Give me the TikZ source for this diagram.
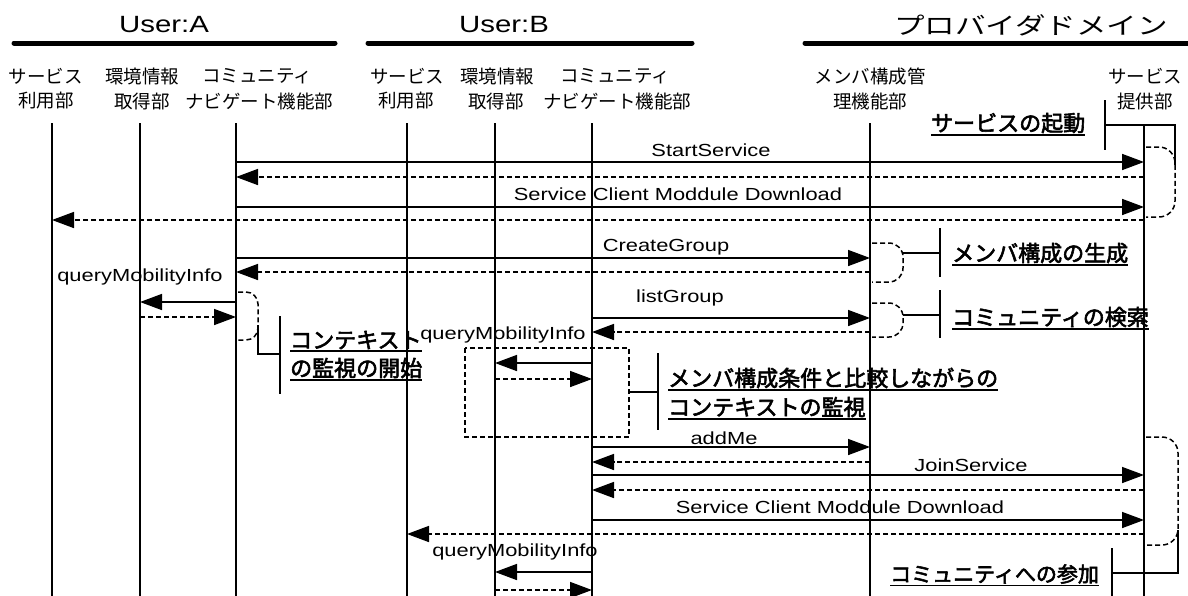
\documentclass[tikz,border=0pt]{standalone}
\usepackage{fontspec}
\usetikzlibrary{arrows.meta,calc}
\setmainfont{Liberation Sans}
\newfontfamily\lat[FakeStretch=1.25]{Liberation Sans}
\newfontfamily\jp{Noto Sans CJK JP}
\newfontfamily\jpt[FakeStretch=1.3]{Noto Sans CJK JP}
\newfontfamily\jpb[FakeBold=2.6]{Noto Sans CJK JP}
\newcommand\msgline[4]{\draw[#4] (#1 |- 0,#3) -- (#2 |- 0,#3);}
\begin{document}
\begin{tikzpicture}[x=1pt,y=-1pt,
  lifeline/.style={line width=1.8pt},
  hbar/.style={line width=5pt,line cap=round},
  callmsg/.style={line width=1.6pt,-{Triangle[length=22pt,width=16pt]}},
  retmsg/.style={callmsg,dash pattern=on 5pt off 3pt},
  dashcurve/.style={line width=1.5pt,dash pattern=on 5pt off 3pt},
  link/.style={line width=1.6pt},
  title/.style={inner sep=0pt,font=\lat\fontsize{23.5}{26}\selectfont},
  coltext/.style={inner sep=0pt,font=\jp\fontsize{18.5}{20}\selectfont},
  msgtext/.style={inner sep=0pt,font=\lat\fontsize{17.5}{20}\selectfont},
  note/.style={inner sep=0pt,anchor=west,font=\jpb\fontsize{22}{24}\selectfont},
  uline/.style={line width=1.5pt}]
\useasboundingbox (0,0) rectangle (1188,595);
\fill[white] (0,0) rectangle (1188,595);

% header titles and bars
\node[title] (tA) at (164,25) {User:A};
\node[title] (tB) at (504,25) {User:B};
\node[inner sep=0pt,font=\jpt\fontsize{23.5}{26}\selectfont] (tP) at (1031,25) {プロバイダドメイン};
\draw[hbar] (14,43) -- (335,43);
\draw[hbar] (368,43) -- (692,43);
\draw[hbar] (805,43) -- (1192,43);

% column labels
\node[coltext] (a1) at (46,76) {サービス};
\node[coltext] (a1b) at (46,101) {利用部};
\node[coltext] (a2) at (142,76) {環境情報};
\node[coltext] (a2b) at (142,101) {取得部};
\node[coltext] (a3) at (257,76) {コミュニティ};
\node[coltext] (a3b) at (259,101) {ナビゲート機能部};
\node[coltext] (b1) at (407,76) {サービス};
\node[coltext] (b1b) at (406,101) {利用部};
\node[coltext] (b2) at (497,76) {環境情報};
\node[coltext] (b2b) at (496,101) {取得部};
\node[coltext] (b3) at (615,76) {コミュニティ};
\node[coltext] (b3b) at (617,101) {ナビゲート機能部};
\node[coltext] (m1) at (870,76) {メンバ構成管};
\node[coltext] (m1b) at (870,101) {理機能部};
\node[coltext] (p1) at (1145,76) {サービス};
\node[coltext] (p1b) at (1145,101) {提供部};

% lifelines
\coordinate (Asv) at (52,0);
\coordinate (Aenv) at (140,0);
\coordinate (Acm) at (236,0);
\coordinate (Bsv) at (407,0);
\coordinate (Benv) at (495,0);
\coordinate (Bcm) at (592,0);
\coordinate (Mem) at (870,0);
\coordinate (Prv) at (1144,0);
\foreach \c in {Asv,Aenv,Acm,Bsv,Benv,Bcm,Mem}
  \draw[lifeline] (\c |- 0,123) -- (\c |- 0,596);
\draw[lifeline] (Prv |- 0,125) -- (Prv |- 0,596);

% messages
\msgline{Acm}{Prv}{162}{callmsg}
\msgline{Prv}{Acm}{177}{retmsg}
\msgline{Acm}{Prv}{207}{callmsg}
\msgline{Prv}{Asv}{220}{retmsg}
\msgline{Acm}{Mem}{258}{callmsg}
\msgline{Mem}{Acm}{272}{retmsg}
\msgline{Acm}{Aenv}{302}{callmsg}
\msgline{Aenv}{Acm}{317}{retmsg}
\msgline{Bcm}{Mem}{318}{callmsg}
\msgline{Mem}{Bcm}{332}{retmsg}
\msgline{Bcm}{Benv}{363}{callmsg}
\msgline{Benv}{Bcm}{379}{retmsg}
\msgline{Bcm}{Mem}{447}{callmsg}
\msgline{Mem}{Bcm}{462}{retmsg}
\msgline{Bcm}{Prv}{475}{callmsg}
\msgline{Prv}{Bcm}{490}{retmsg}
\msgline{Bcm}{Prv}{520}{callmsg}
\msgline{Prv}{Bsv}{534}{retmsg}
\msgline{Bcm}{Benv}{572}{callmsg}
\msgline{Benv}{Bcm}{590}{retmsg}

% message labels
\node[msgtext] (l1) at (711,150) {StartService};
\node[msgtext] (l2) at (678,194) {Service Client Moddule Download};
\node[msgtext] (l3) at (666,247) {CreateGroup};
\node[msgtext] (l4) at (140,277) {queryMobilityInfo};
\node[msgtext] (l5) at (680,298) {listGroup};
\node[msgtext] (l6) at (503,335) {queryMobilityInfo};
\node[msgtext] (l7) at (724,438) {addMe};
\node[msgtext] (l8) at (971,465) {JoinService};
\node[msgtext] (l9) at (840,507) {Service Client Moddule Download};
\node[msgtext] (l10) at (515,552) {queryMobilityInfo};

% notes (bold underlined)
\node[note] (n1) at (931,123) {サービスの起動};
\node[note] (n2) at (952,253) {メンバ構成の生成};
\node[note] (n3) at (952,317) {コミュニティの検索};
\node[note] (n4) at (290,340) {コンテキスト};
\node[note] (n4b) at (290,368) {の監視の開始};
\node[note] (n5) at (668,378) {メンバ構成条件と比較しながらの};
\node[note] (n5b) at (668,407) {コンテキストの監視};
\node[note,font=\jpb\fontsize{21}{24}\selectfont] (n6) at (890,574) {コミュニティへの参加};
\foreach \n in {n1,n2,n3,n4,n4b,n5,n5b,n6}
  \draw[uline] ([yshift=-1.5pt]\n.south west) -- ([yshift=-1.5pt]\n.south east);

% bracket: service start
\draw[link] (1105,100) -- (1105,150);
\draw[link] (1105,125) -- (1175,125) -- (1175,165);
\draw[dashcurve,rounded corners=16pt] (1146,147) -- (1175,147) -- (1175,217) -- (1146,217);

% bracket: member create
\draw[dashcurve,rounded corners=14pt] (872,243) -- (903,243) -- (903,282) -- (872,282);
\draw[link] (903,253) -- (940,253);
\draw[link] (940,228) -- (940,277);

% bracket: community search
\draw[dashcurve,rounded corners=14pt] (872,303) -- (903,303) -- (903,337) -- (872,337);
\draw[link] (903,315) -- (940,315);
\draw[link] (940,290) -- (940,338);

% bracket: context monitoring start
\draw[dashcurve,rounded corners=12pt] (238,292) -- (258,292) -- (258,340) -- (238,340);
\draw[link] (258,325) -- (258,354) -- (280,354);
\draw[link] (280,316) -- (280,394);

% dashed box: monitoring while comparing
\draw[dashcurve] (465,348) rectangle (629,437);
\draw[link] (629,392) -- (658,392);
\draw[link] (658,353) -- (658,430);

% bracket: join community
\draw[dashcurve,rounded corners=16pt] (1146,437) -- (1178,437) -- (1178,545) -- (1146,545);
\draw[link] (1178,530) -- (1178,573) -- (1112,573);
\draw[link] (1112,548) -- (1112,596);
\end{tikzpicture}
\end{document}
